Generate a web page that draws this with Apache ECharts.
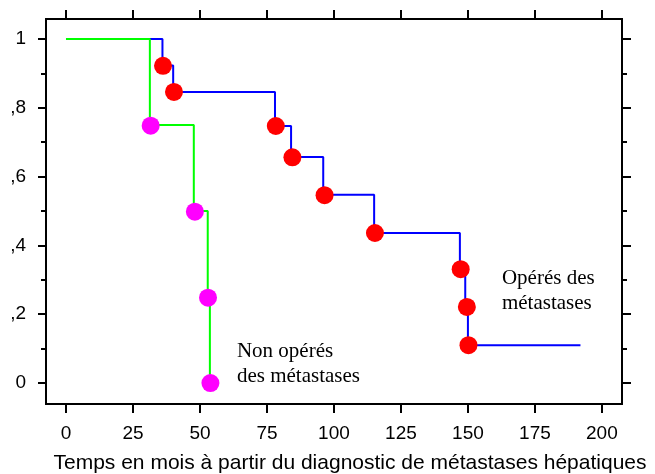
<!DOCTYPE html>
<html>
<head>
<meta charset="utf-8">
<script src="https://cdn.jsdelivr.net/npm/echarts@6/dist/echarts.min.js"></script>
<style>
  html, body { margin: 0; padding: 0; background: #fff; }
  #chart { width: 655px; height: 474px; }
</style>
</head>
<body>
<div id="chart"></div>
<script>
// survie - opérés des métastases (temps en mois, survie)
var opTimes = [0, 36, 40, 78, 84, 96, 115, 147, 149, 150, 192];
var opSurv  = [1, 0.923, 0.846, 0.747, 0.657, 0.547, 0.436, 0.331, 0.221, 0.11, 0.11];
// points marqués (décès) pour les opérés
var opDotTimes = [36.2, 40.3, 78.3, 84.5, 96.5, 115.3, 147.3, 149.6, 150.2];
var opDotSurv  = [0.922, 0.846, 0.747, 0.656, 0.546, 0.436, 0.331, 0.221, 0.11];

// survie - non opérés
var npTimes = [0, 31.3, 47.7, 52.9, 53.7];
var npSurv  = [1, 0.75, 0.5, 0.25, 0];
var npDotTimes = [31.6, 48.1, 53.0, 53.9];
var npDotSurv  = [0.748, 0.498, 0.248, 0];

// axes
var xTicks = [0, 25, 50, 75, 100, 125, 150, 175, 200];
var yTicks = [0, 0.2, 0.4, 0.6, 0.8, 1];
var yTickLabels = ['0', ',2', ',4', ',6', ',8', '1'];
var yMinorTicks = [0.1, 0.3, 0.5, 0.7, 0.9];

// annotations (une ligne par entrée)
var annLines = [['Opérés des', 'métastases'], ['Non opérés', 'des métastases']];
var annX = [162.7, 63.8];
var annY = [0.333, 0.1235];

function zip(a, b) {
  var out = [];
  for (var i = 0; i < a.length; i++) out.push([a[i], b[i]]);
  return out;
}

var chart = echarts.init(document.getElementById('chart'));

var lineStyleAxis = { color: '#000', width: 2 };
var sans = '"Liberation Sans", Arial, sans-serif';

var xBase = {
  type: 'value',
  min: -7.46,
  max: 207.5,
  splitLine: { show: false },
  axisLine: { show: true, onZero: false, lineStyle: lineStyleAxis },
  axisTick: { show: true, customValues: xTicks, length: 9, lineStyle: { color: '#000', width: 2 } }
};
var yBase = {
  type: 'value',
  min: -0.061,
  max: 1.058,
  splitLine: { show: false },
  axisLine: { show: true, onZero: false, lineStyle: lineStyleAxis }
};

var option = {
  animation: false,
  backgroundColor: '#fff',
  grid: { left: 46, right: 33, top: 19, bottom: 70, containLabel: false, outerBoundsMode: 'none' },
  xAxis: [
    Object.assign({}, xBase, {
      position: 'bottom',
      axisLabel: {
        show: true, customValues: xTicks, margin: 20,
        color: '#000', fontSize: 19, fontFamily: sans
      },
      name: 'Temps en mois à partir du diagnostic de métastases hépatiques',
      nameLocation: 'middle',
      nameGap: 49,
      nameTextStyle: { color: '#000', fontSize: 21, fontFamily: sans, padding: [0, 0, 0, 32] }
    }),
    Object.assign({}, xBase, {
      position: 'top',
      axisLabel: { show: false }
    })
  ],
  yAxis: [
    Object.assign({}, yBase, {
      position: 'left',
      axisTick: { show: true, customValues: yTicks, length: 8, lineStyle: { color: '#000', width: 2 } },
      axisLabel: {
        show: true, customValues: yTicks, margin: 20,
        color: '#000', fontSize: 19, fontFamily: sans,
        formatter: function (v) {
          for (var i = 0; i < yTicks.length; i++) {
            if (Math.abs(yTicks[i] - v) < 1e-6) return yTickLabels[i];
          }
          return '';
        }
      }
    }),
    Object.assign({}, yBase, {
      position: 'left',
      axisTick: { show: true, customValues: yMinorTicks, length: 5, lineStyle: { color: '#000', width: 2 } },
      axisLabel: { show: false }
    }),
    Object.assign({}, yBase, {
      position: 'right',
      axisTick: { show: true, customValues: yTicks, length: 9, lineStyle: { color: '#000', width: 2 } },
      axisLabel: { show: false }
    }),
    Object.assign({}, yBase, {
      position: 'right',
      axisTick: { show: true, customValues: yMinorTicks, length: 5, lineStyle: { color: '#000', width: 2 } },
      axisLabel: { show: false }
    })
  ],
  series: [
    {
      name: 'Opérés des métastases',
      type: 'line',
      step: 'end',
      showSymbol: false,
      symbol: 'none',
      lineStyle: { color: '#0000ff', width: 2 },
      data: zip(opTimes, opSurv),
      z: 2
    },
    {
      name: 'Non opérés des métastases',
      type: 'line',
      step: 'end',
      showSymbol: false,
      symbol: 'none',
      lineStyle: { color: '#00ff00', width: 2 },
      data: zip(npTimes, npSurv),
      z: 3
    },
    {
      type: 'scatter',
      symbolSize: 18,
      itemStyle: { color: '#ff0000', opacity: 1 },
      data: zip(opDotTimes, opDotSurv),
      z: 4
    },
    {
      type: 'scatter',
      symbolSize: 18,
      itemStyle: { color: '#ff00ff', opacity: 1 },
      data: zip(npDotTimes, npDotSurv),
      z: 4
    }
  ]
};

chart.setOption(option);

// étiquettes placées en coordonnées de données
var graphics = [];
for (var i = 0; i < annLines.length; i++) {
  var p = chart.convertToPixel({ xAxisIndex: 0, yAxisIndex: 0 }, [annX[i], annY[i]]);
  for (var j = 0; j < annLines[i].length; j++) {
    graphics.push({
      type: 'text',
      x: p[0],
      y: p[1] + j * 25,
      style: {
        text: annLines[i][j],
        fill: '#000',
        fontSize: 21,
        fontFamily: '"Liberation Serif", "Times New Roman", serif',
        align: 'left',
        verticalAlign: 'top'
      }
    });
  }
}
chart.setOption({ graphic: graphics });
</script>
</body>
</html>
